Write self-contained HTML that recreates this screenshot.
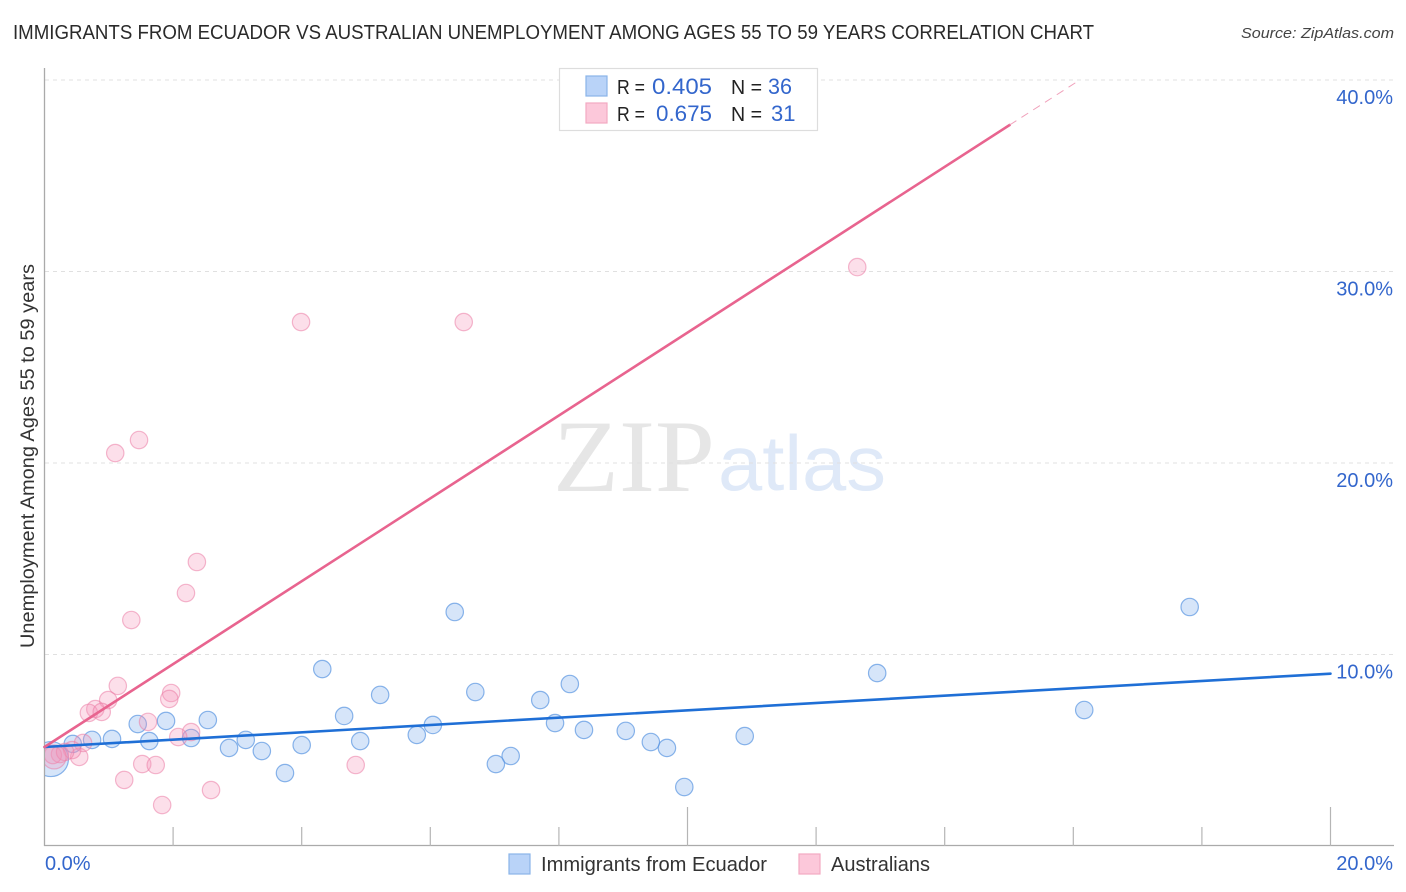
<!DOCTYPE html>
<html lang="en">
<head>
<meta charset="utf-8">
<title>Immigrants from Ecuador vs Australian Unemployment Correlation Chart</title>
<style>
html,body{margin:0;padding:0;background:#fff;}
svg{display:block;font-family:"Liberation Sans",sans-serif;}
</style>
</head>
<body>
<svg id="chart" width="1406" height="892" viewBox="0 0 1406 892" xmlns="http://www.w3.org/2000/svg">
  <rect x="0" y="0" width="1406" height="892" fill="#ffffff"/>
  <text x="13" y="39" font-size="20" fill="#2a2a2a" textLength="1081" lengthAdjust="spacingAndGlyphs">IMMIGRANTS FROM ECUADOR VS AUSTRALIAN UNEMPLOYMENT AMONG AGES 55 TO 59 YEARS CORRELATION CHART</text>
  <text x="1394" y="38" font-size="15" font-style="italic" fill="#444" text-anchor="end" textLength="153" lengthAdjust="spacingAndGlyphs">Source: ZipAtlas.com</text>

  <g>
    <text x="553" y="491" font-family="'Liberation Serif',serif" font-size="103" fill="#e6e6e6" textLength="162" lengthAdjust="spacingAndGlyphs">ZIP</text>
    <text x="718" y="490" font-size="78" fill="#dfe9f8" textLength="168" lengthAdjust="spacingAndGlyphs">atlas</text>
  </g>

  <g id="grid"></g>
  <g id="axes"></g>
  <g id="points"></g>
  <g id="trends"></g>
  <g id="labels"></g>

  <text transform="translate(34,456) rotate(-90)" font-size="19" fill="#333" text-anchor="middle" textLength="384" lengthAdjust="spacingAndGlyphs">Unemployment Among Ages 55 to 59 years</text>

  <g>
    <rect x="559.5" y="68.5" width="258" height="62" fill="#ffffff" stroke="#dddddd" stroke-width="1.2"/>
    <rect x="586" y="76" width="21" height="20" fill="#b9d3f8" stroke="#8ab4e8" stroke-width="1.2"/>
    <rect x="586" y="103" width="21" height="20" fill="#fcc8da" stroke="#f3a9c2" stroke-width="1.2"/>
    <text x="617" y="94" font-size="20" fill="#222" textLength="28" lengthAdjust="spacingAndGlyphs">R =</text>
    <text x="652" y="94" font-size="22" fill="#3366cc" textLength="60" lengthAdjust="spacingAndGlyphs">0.405</text>
    <text x="731" y="94" font-size="20" fill="#222" textLength="31" lengthAdjust="spacingAndGlyphs">N =</text>
    <text x="768" y="94" font-size="22" fill="#3366cc" textLength="24" lengthAdjust="spacingAndGlyphs">36</text>
    <text x="617" y="121" font-size="20" fill="#222" textLength="28" lengthAdjust="spacingAndGlyphs">R =</text>
    <text x="656" y="121" font-size="22" fill="#3366cc" textLength="56" lengthAdjust="spacingAndGlyphs">0.675</text>
    <text x="731" y="121" font-size="20" fill="#222" textLength="31" lengthAdjust="spacingAndGlyphs">N =</text>
    <text x="771" y="121" font-size="22" fill="#3366cc">31</text>
  </g>

  <g>
    <rect x="509" y="854" width="21" height="20" fill="#b9d3f8" stroke="#8ab4e8" stroke-width="1.2"/>
    <text x="541" y="871" font-size="20" fill="#333" textLength="226" lengthAdjust="spacingAndGlyphs">Immigrants from Ecuador</text>
    <rect x="799" y="854" width="21" height="20" fill="#fcc8da" stroke="#f3a9c2" stroke-width="1.2"/>
    <text x="831" y="871" font-size="20" fill="#333" textLength="99" lengthAdjust="spacingAndGlyphs">Australians</text>
  </g>
</svg>
<script>
const ecuadorX = [17.81,16.17,12.95,10.89,9.95,9.68,9.43,9.04,8.39,8.17,7.94,7.71,7.25,7.02,6.70,6.38,6.04,5.79,5.22,4.91,4.66,4.32,4.00,3.74,3.38,3.13,2.87,2.54,2.28,1.89,1.63,1.45,1.05,0.74,0.44,0.10];
const ecuadorY = [12.48,7.10,9.03,5.74,3.08,5.12,5.43,6.01,6.06,8.46,6.42,7.62,4.70,4.28,8.04,12.22,6.32,5.80,7.89,5.48,6.79,9.24,5.27,3.81,4.96,5.54,5.12,6.58,5.64,6.53,5.48,6.37,5.59,5.54,5.33,4.54];
const australiansX = [12.64,6.52,3.99,1.47,1.10,2.37,2.20,1.35,1.14,0.99,0.79,0.69,0.89,1.97,1.94,1.61,2.28,2.08,1.52,1.73,1.24,2.59,1.83,4.84,0.54,0.60,0.43,0.24,0.13,0.32,0.15];
const australiansY = [30.23,27.36,27.36,21.20,20.52,14.83,13.21,11.80,8.36,7.62,7.15,6.95,7.00,7.99,7.68,6.48,5.95,5.69,4.28,4.23,3.45,2.92,2.14,4.23,4.65,5.38,5.01,4.80,4.75,4.91,4.65];
const ecuadorTrendX = [0,20];
const ecuadorTrendY = [5.17,9.0];
const australiansTrendX = [0,15.01];
const australiansTrendY = [5.17,37.65];
const australiansTrendExtX = [15.01,16.1];
const australiansTrendExtY = [37.65,40];
const yTicks = [10,20,30,40];
const yTickLabels = ['10.0%','20.0%','30.0%','40.0%'];
const xTicks = [2,4,6,8,10,12,14,16,18,20];
const xMajorTicks = [10,20];
const xEndLabels = ['0.0%','20.0%'];

const NS = 'http://www.w3.org/2000/svg';
const PLOT_LEFT = 44.5, PX_PER_X = 64.3, PLOT_BOTTOM = 846, PX_PER_Y = 19.15;
function sx(v){ return PLOT_LEFT + v * PX_PER_X; }
function sy(v){ return PLOT_BOTTOM - v * PX_PER_Y; }
function make(tag, attrs, parent){
  const el = document.createElementNS(NS, tag);
  for (const k in attrs) el.setAttribute(k, attrs[k]);
  parent.appendChild(el);
  return el;
}

const svg = document.getElementById('chart');
const defs = make('defs', {}, svg);
const clip = make('clipPath', {id:'plot-clip'}, defs);
make('rect', {x:45, y:68, width:1349, height:778}, clip);

const gridG = document.getElementById('grid');
yTicks.forEach(function(t){
  const line = make('line', {x1:45, x2:1394, y1:sy(t), y2:sy(t), stroke:'#e0e0e0', 'stroke-width':1, 'stroke-dasharray':'4 4'}, gridG);
  
  
});

const axesG = document.getElementById('axes');
const yAxis = make('line', {x1:44.5, x2:44.5, y1:68, y2:846, stroke:'#aaaaaa', 'stroke-width':1.3}, axesG);


const xAxis = make('line', {x1:44, x2:1394, y1:845.5, y2:845.5, stroke:'#aaaaaa', 'stroke-width':1.3}, axesG);


xTicks.forEach(function(t){
  const top = xMajorTicks.indexOf(t) >= 0 ? 807 : 827;
  const tick = make('line', {x1:sx(t), x2:sx(t), y1:top, y2:846, stroke:'#b5b5b5', 'stroke-width':1.2}, axesG);
  
  
});

const pointsG = document.getElementById('points');
pointsG.setAttribute('clip-path', 'url(#plot-clip)');
ecuadorX.forEach(function(x, i){
  const large = i === ecuadorX.length - 1;
  const c = make('circle', {cx:sx(x), cy:sy(ecuadorY[i]), r:large ? 17.5 : 8.7, fill:'rgba(120,170,235,0.3)', stroke:'rgba(90,150,225,0.7)', 'stroke-width':1.2}, pointsG);
  
  
});
australiansX.forEach(function(x, i){
  const large = i === australiansX.length - 1;
  const c = make('circle', {cx:sx(x), cy:sy(australiansY[i]), r:large ? 12 : 8.7, fill:'rgba(245,150,185,0.3)', stroke:'rgba(235,125,165,0.55)', 'stroke-width':1.2}, pointsG);
  
  
});

const trendsG = document.getElementById('trends');
const blueTrend = make('line', {x1:sx(ecuadorTrendX[0]), y1:sy(ecuadorTrendY[0]), x2:sx(ecuadorTrendX[1]), y2:sy(ecuadorTrendY[1]), stroke:'#1f6fd6', 'stroke-width':2.6, 'stroke-linecap':'round'}, trendsG);


const pinkTrend = make('line', {x1:sx(australiansTrendX[0]), y1:sy(australiansTrendY[0]), x2:sx(australiansTrendX[1]), y2:sy(australiansTrendY[1]), stroke:'#e8648f', 'stroke-width':2.6, 'stroke-linecap':'round'}, trendsG);


const pinkExt = make('line', {x1:sx(australiansTrendExtX[0]), y1:sy(australiansTrendExtY[0]), x2:sx(australiansTrendExtX[1]), y2:sy(australiansTrendExtY[1]), stroke:'#f0a0ba', 'stroke-width':1, 'stroke-dasharray':'8 6'}, trendsG);



const labelsG = document.getElementById('labels');
yTicks.forEach(function(t, i){
  const label = make('text', {x:1393, y:sy(t) + 24, 'font-size':20, fill:'#3366cc', 'text-anchor':'end'}, labelsG);
  label.textContent = yTickLabels[i];
  
  
});
const xStart = make('text', {x:45, y:870, 'font-size':20, fill:'#3366cc'}, labelsG);
xStart.textContent = xEndLabels[0];


const xEnd = make('text', {x:1393, y:870, 'font-size':20, fill:'#3366cc', 'text-anchor':'end'}, labelsG);
xEnd.textContent = xEndLabels[1];


</script>
</body>
</html>
